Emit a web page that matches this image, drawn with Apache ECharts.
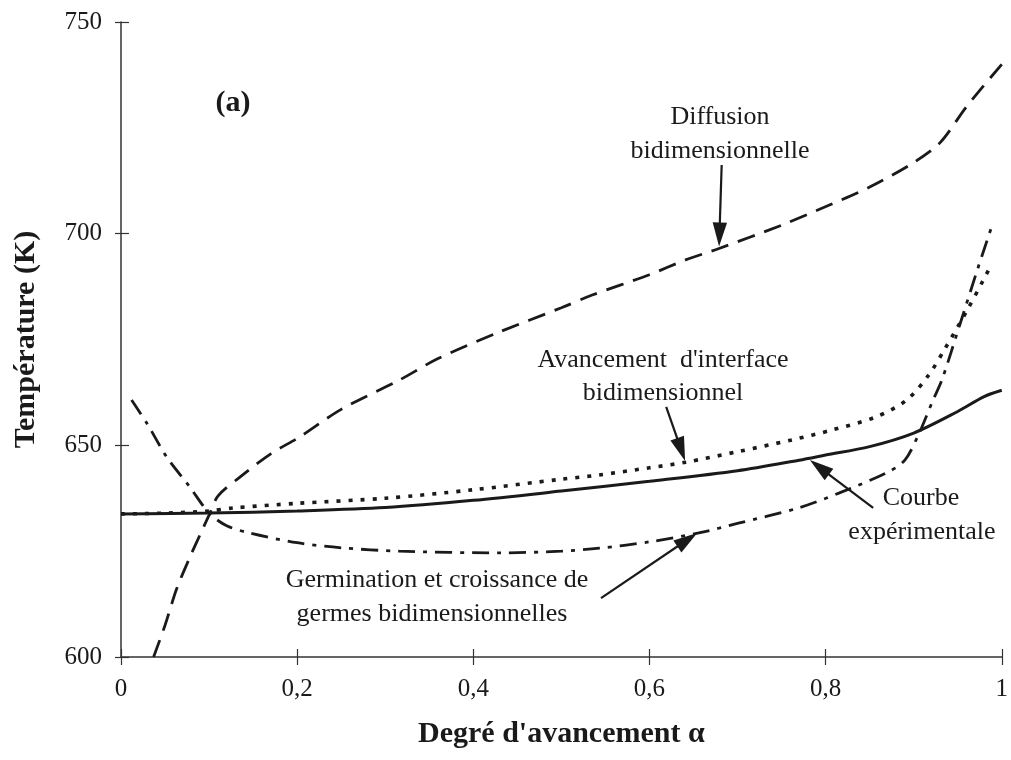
<!DOCTYPE html>
<html>
<head>
<meta charset="utf-8">
<script src="https://cdn.jsdelivr.net/npm/echarts@6/dist/echarts.min.js"></script>
<style>
  html, body { margin: 0; padding: 0; background: #fff; }
  #chart { width: 1011px; height: 760px; }
</style>
</head>
<body>
<div id="chart"></div>
<script>
// ---- Data (alpha, Temperature K) ----
const xTicks = [0, 0.2, 0.4, 0.6, 0.8, 1];
const yTicks = [600, 650, 700, 750];

const courbeExperimentale = [
  [0, 633.8], [0.1, 634], [0.2, 634.5], [0.3, 635.3], [0.4, 637], [0.5, 639.2],
  [0.6, 641.5], [0.7, 644], [0.77, 646.5], [0.8, 647.7], [0.85, 649.7],
  [0.9, 652.9], [0.95, 658], [0.98, 661.5], [1.0, 663]
];

const avancementInterface = [
  [0, 633.8], [0.05, 634], [0.1, 634.5], [0.127, 635.2], [0.2, 636.3], [0.3, 637.5],
  [0.4, 639.5], [0.5, 642], [0.543, 643], [0.6, 644.7], [0.641, 646], [0.7, 648.5],
  [0.762, 651.3], [0.807, 653.6], [0.857, 656.7], [0.892, 660.7], [0.917, 666.6],
  [0.936, 673], [0.962, 682.4], [0.979, 689], [0.988, 692.6]
];

const germinationCroissance = [
  [0.012, 660.7], [0.03, 655], [0.052, 647.2], [0.078, 640.2], [0.1, 634],
  [0.12, 631], [0.146, 629.3], [0.2, 627], [0.25, 625.8], [0.316, 625],
  [0.43, 624.6], [0.5, 625], [0.543, 625.7], [0.6, 627.2], [0.656, 629.3],
  [0.701, 631.6], [0.769, 635.2], [0.815, 638.7], [0.871, 643.7], [0.89, 646.5],
  [0.905, 652.3], [0.922, 660.7], [0.932, 665.4], [0.953, 678.9], [0.973, 691.9],
  [0.988, 701.3]
];

const diffusionBidim = [
  [0.037, 600], [0.05, 607.5], [0.063, 616], [0.077, 623], [0.09, 629], [0.1, 633.5],
  [0.11, 638], [0.135, 642.5], [0.17, 648], [0.203, 652], [0.25, 658.5], [0.316, 665.4],
  [0.36, 670.5], [0.43, 676.8], [0.5, 682.5], [0.535, 685.5], [0.6, 690.3],
  [0.641, 693.8], [0.679, 696.5], [0.75, 702], [0.807, 707], [0.85, 711],
  [0.9, 716.8], [0.93, 721.5], [0.96, 730], [1.0, 740]
];

// arrows: [from, to] in data coordinates
const arrows = [
  [[0.682, 716.2], [0.6795, 699.8]],
  [[0.619, 659.1], [0.636, 649.0]],
  [[0.854, 635.2], [0.793, 644.8]],
  [[0.545, 613.9], [0.643, 627.7]]
];

const serif = '"Liberation Serif", "DejaVu Serif", serif';
const ink = '#1a1a1a';

const chart = echarts.init(document.getElementById('chart'), null, { renderer: 'canvas' });

const baseX = {
  type: 'value', min: 0, max: 1, interval: 0.2, position: 'bottom',
  splitLine: { show: false }
};
const baseY = {
  type: 'value', min: 600, max: 750, interval: 50, position: 'left',
  splitLine: { show: false }
};

const arrowPath = 'path://M0,0 L6,20 L-6,20 Z';

const option = {
  animation: false,
  backgroundColor: '#fff',
  grid: { left: 121, right: 8, top: 22, bottom: 103, containLabel: false },
  xAxis: [
    Object.assign({}, baseX, {
      name: "Degré d'avancement α",
      nameLocation: 'middle',
      nameGap: 62,
      nameTextStyle: { fontFamily: serif, fontWeight: 'bold', fontSize: 30, color: ink },
      axisLine: { show: true, lineStyle: { color: '#333', width: 1.5 } },
      axisTick: { show: true, length: 8, lineStyle: { color: '#333', width: 1.2 } },
      axisLabel: {
        fontFamily: serif, fontSize: 25, color: ink, margin: 20,
        formatter: v => String(Math.round(v * 10) / 10).replace('.', ',')
      }
    }),
    Object.assign({}, baseX, {
      axisLine: { show: false },
      axisTick: { show: true, inside: true, length: 8, lineStyle: { color: '#333', width: 1.2 } },
      axisLabel: { show: false }
    })
  ],
  yAxis: [
    Object.assign({}, baseY, {
      name: 'Température (K)',
      nameLocation: 'middle',
      nameGap: 80,
      nameTextStyle: { fontFamily: serif, fontWeight: 'bold', fontSize: 30, color: ink },
      axisLine: { show: true, lineStyle: { color: '#333', width: 1.5 } },
      axisTick: { show: true, length: 6, lineStyle: { color: '#333', width: 1.2 } },
      axisLabel: { fontFamily: serif, fontSize: 25, color: ink, margin: 19 }
    }),
    Object.assign({}, baseY, {
      axisLine: { show: false },
      axisTick: { show: true, inside: true, length: 8, lineStyle: { color: '#333', width: 1.2 } },
      axisLabel: { show: false }
    })
  ],
  series: [
    {
      name: 'Courbe expérimentale', type: 'line', data: courbeExperimentale,
      smooth: 0.3, showSymbol: false, clip: true,
      lineStyle: { color: ink, width: 3, type: 'solid' }
    },
    {
      name: "Avancement d'interface bidimensionnel", type: 'line', data: avancementInterface,
      smooth: 0.3, showSymbol: false, clip: true,
      lineStyle: { color: ink, width: 3.6, type: [4, 8] }
    },
    {
      name: 'Germination et croissance de germes bidimensionnelles', type: 'line',
      data: germinationCroissance, smooth: 0.3, showSymbol: false, clip: true,
      lineStyle: { color: ink, width: 2.8, type: [17, 8, 4, 8] }
    },
    {
      name: 'Diffusion bidimensionnelle', type: 'line', data: diffusionBidim,
      smooth: 0.3, showSymbol: false, clip: true,
      lineStyle: { color: ink, width: 2.8, type: [18, 10] }
    },
    {
      name: 'arrows', type: 'line', data: [[0, 600]], silent: true,
      showSymbol: false, lineStyle: { opacity: 0 },
      markLine: {
        silent: true, animation: false,
        symbol: ['none', arrowPath], symbolSize: 24,
        symbolKeepAspect: true,
        label: { show: false },
        emphasis: { disabled: true },
        lineStyle: { color: ink, width: 2.2, type: 'solid' },
        itemStyle: { color: ink },
        data: arrows.map(a => [{ coord: a[0] }, { coord: a[1] }])
      }
    }
  ],
  graphic: [
    { type: 'text', x: 233, y: 103, style: { text: '(a)', font: 'bold 30px ' + serif, fill: ink, textAlign: 'center', textVerticalAlign: 'middle' } },
    { type: 'text', x: 720, y: 117, style: { text: 'Diffusion', font: '26px ' + serif, fill: ink, textAlign: 'center', textVerticalAlign: 'middle' } },
    { type: 'text', x: 720, y: 151, style: { text: 'bidimensionnelle', font: '26px ' + serif, fill: ink, textAlign: 'center', textVerticalAlign: 'middle' } },
    { type: 'text', x: 663, y: 360, style: { text: "Avancement  d'interface", font: '26px ' + serif, fill: ink, textAlign: 'center', textVerticalAlign: 'middle' } },
    { type: 'text', x: 663, y: 393, style: { text: 'bidimensionnel', font: '26px ' + serif, fill: ink, textAlign: 'center', textVerticalAlign: 'middle' } },
    { type: 'text', x: 921, y: 498, style: { text: 'Courbe', font: '26px ' + serif, fill: ink, textAlign: 'center', textVerticalAlign: 'middle' } },
    { type: 'text', x: 922, y: 532, style: { text: 'expérimentale', font: '26px ' + serif, fill: ink, textAlign: 'center', textVerticalAlign: 'middle' } },
    { type: 'text', x: 437, y: 580, style: { text: 'Germination et croissance de', font: '26px ' + serif, fill: ink, textAlign: 'center', textVerticalAlign: 'middle' } },
    { type: 'text', x: 432, y: 614, style: { text: 'germes bidimensionnelles', font: '26px ' + serif, fill: ink, textAlign: 'center', textVerticalAlign: 'middle' } }
  ]
};

chart.setOption(option);
</script>
</body>
</html>
